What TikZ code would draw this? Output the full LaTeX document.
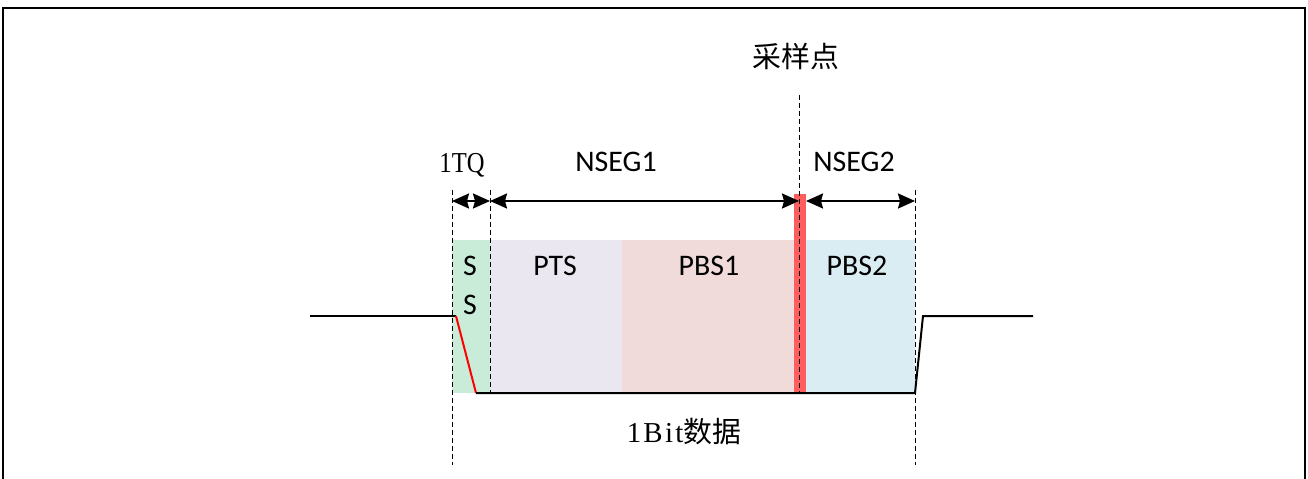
\documentclass[tikz,border=0pt]{standalone}
\usepackage{fontspec}
\setmainfont{Liberation Serif}
\newfontfamily\cjk{Noto Sans CJK SC}
\newfontfamily\calf{Carlito}
\newfontfamily\simlat[FakeStretch=0.85]{Liberation Serif}
\newfontfamily\simbit[LetterSpace=8]{Liberation Serif}
\usetikzlibrary{arrows.meta}
\definecolor{ssgreen}{HTML}{C9ECD9}
\definecolor{ptslav}{HTML}{EAE7F0}
\definecolor{pbspink}{HTML}{F1DADA}
\definecolor{pbsblue}{HTML}{DAEDF3}
\definecolor{sampred}{HTML}{FF5E5E}
\tikzset{
  guide/.style={draw=black, line width=0.9bp, dash pattern=on 5bp off 3bp},
  seglabel/.style={font=\calf\fontsize{30}{36}\selectfont, inner sep=0pt},
  dimarrow/.style={line width=2.2bp, {Stealth[length=17bp,width=15bp,inset=2bp]}-{Stealth[length=17bp,width=15bp,inset=2bp]}},
  sig/.style={line width=2bp, line join=miter},
}
\begin{document}
\begin{tikzpicture}[x=1bp,y=-1bp]
\useasboundingbox (0,0) rectangle (1308,479);
% frame
\draw[line width=2bp] (3,479) -- (3,8) -- (1305,8) -- (1305,479);
% segments
\fill[ssgreen] (452,240) rectangle (490,393);
\fill[ptslav] (490,240) rectangle (622,393);
\fill[pbspink] (622,240) rectangle (795,393);
\fill[pbsblue] (806,240) rectangle (915,393);
\fill[sampred] (794,194) rectangle (806,393);
% guide lines
\coordinate (g1t) at (452,190); \coordinate (g1b) at (452,465);
\coordinate (g2t) at (490,190); \coordinate (g2b) at (490,393);
\coordinate (g3t) at (799,95);  \coordinate (g3b) at (799,393);
\coordinate (g4t) at (915,190); \coordinate (g4b) at (915,465);
\draw[guide] (g1t) -- (g1b);
\draw[guide] (g2t) -- (g2b);
\draw[guide] (g3t) -- (g3b);
\draw[guide] (g4t) -- (g4b);
% labels inside
\node[seglabel] (s1) at (470,266) {S};
\node[seglabel] (s2) at (470,305) {S};
\node[seglabel] (pts) at (555,266) {PTS};
\node[seglabel] (pbs1) at (709,266) {PBS1};
\node[seglabel] (pbs2) at (857,266) {PBS2};
% dimension arrows
\coordinate (a1) at (452,201); \coordinate (a2) at (490,201);
\coordinate (a3) at (799,201); \coordinate (a4) at (806,201);
\coordinate (a5) at (915,201);
\draw[dimarrow] (a1) -- (a2);
\draw[dimarrow] (a2) -- (a3);
\draw[dimarrow] (a4) -- (a5);
\node[font=\simlat\fontsize{29}{34}\selectfont, inner sep=0pt] (tq) at (462,165) {1TQ};
\node[seglabel] (nseg1) at (616,162) {NSEG1};
\node[seglabel] (nseg2) at (854,162) {NSEG2};
% sample point
\node[font=\cjk\fontsize{29}{34}\selectfont, inner sep=0pt] (sp) at (796,56) {采样点};
\node[inner sep=0pt] (bit) at (684,432) {\fontsize{29}{34}\selectfont\simbit 1Bit\cjk 数据};
% signal
\coordinate (p0) at (310,316); \coordinate (p1) at (456,316);
\coordinate (p2) at (476,393); \coordinate (p3) at (915,393);
\coordinate (p4) at (923,316); \coordinate (p5) at (1033,316);
\draw[sig] (p0) -- (p1);
\draw[sig, draw=red] (p1) -- (p2);
\draw[sig] (p2) -- (p3) -- (p4) -- (p5);
\end{tikzpicture}
\end{document}
